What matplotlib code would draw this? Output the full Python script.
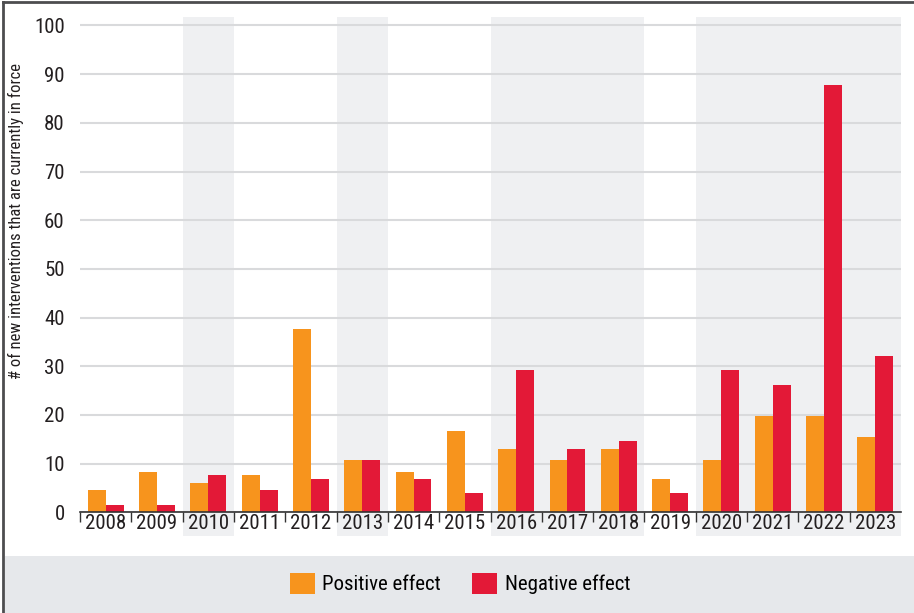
import matplotlib
matplotlib.use('Agg')
import matplotlib.pyplot as plt
import numpy as np
from matplotlib.patches import Rectangle
from matplotlib.lines import Line2D

plt.rcParams['font.family'] = ['Roboto Condensed', 'DejaVu Sans']

years = ['2008', '2009', '2010', '2011', '2012', '2013', '2014', '2015',
         '2016', '2017', '2018', '2019', '2020', '2021', '2022', '2023']
positive = [4.5, 8.3, 6.1, 7.7, 37.6, 10.7, 8.3, 16.8,
            13.0, 10.7, 13.0, 6.9, 10.7, 19.8, 19.8, 15.4]
negative = [1.5, 1.5, 7.7, 4.5, 6.9, 10.7, 6.9, 3.9,
            29.2, 13.0, 14.6, 3.9, 29.2, 26.1, 87.7, 32.2]
# shaded year ranges (first, last)
shaded = [('2010', '2010'), ('2013', '2013'), ('2016', '2018'), ('2020', '2023')]
yticks = [0, 10, 20, 30, 40, 50, 60, 70, 80, 90, 100]

c_pos = '#F7941D'
c_neg = '#E31937'
c_band = '#EFF0F2'
c_grid = '#D9DADC'
c_text = '#231F20'

fig = plt.figure(figsize=(9.14, 6.13), dpi=100)

# legend strip and outer frame
fig.patches.append(Rectangle((5/914, 0), 1, 57/613, transform=fig.transFigure,
                             facecolor='#E6E8EB', edgecolor='none', zorder=0))
fig.lines.append(Line2D([3/914, 3/914], [0, 1 - 2/613], transform=fig.transFigure,
                        color='#4D4D4F', lw=2))
fig.lines.append(Line2D([3/914, 1], [1 - 2/613, 1 - 2/613], transform=fig.transFigure,
                        color='#4D4D4F', lw=2))

ax = fig.add_axes([80/914, 1 - 512.3/613, 821/914, 495.6/613])
x = np.arange(len(years))
w = 0.35

for a, b in shaded:
    i0, i1 = years.index(a), years.index(b)
    ax.add_patch(Rectangle((i0 - 0.5, -0.047), i1 - i0 + 1, 1.047,
                           transform=ax.get_xaxis_transform(), clip_on=False,
                           facecolor=c_band, edgecolor='none', zorder=0))

ax.bar(x - w/2, positive, w, color=c_pos, zorder=3, label='Positive effect')
ax.bar(x + w/2, negative, w, color=c_neg, zorder=3, label='Negative effect')

ax.set_xlim(-0.5, len(years) - 0.5)
ax.set_ylim(0, 101.8)
ax.set_yticks(yticks)
ax.set_yticklabels([str(t) for t in yticks], fontsize=15, color=c_text)
ax.yaxis.grid(True, color=c_grid, lw=1.5, zorder=1)
ax.set_axisbelow(True)
ax.tick_params(axis='y', length=0, pad=11)

ax.set_xticks(x - 0.5, minor=False)
ax.set_xticks(x, minor=True)
ax.set_xticklabels([], minor=False)
ax.set_xticklabels(years, minor=True, fontsize=15, color=c_text)
ax.tick_params(axis='x', which='major', length=7, width=1, color='#333333', direction='out')
ax.tick_params(axis='x', which='minor', length=0, pad=1)

for s in ['top', 'right', 'left']:
    ax.spines[s].set_visible(False)
ax.spines['bottom'].set_color('#333333')
ax.spines['bottom'].set_linewidth(1.2)
ax.spines['bottom'].set_zorder(4)

ax.set_ylabel('# of new interventions that are currently in force', fontsize=12,
              color=c_text)
ax.yaxis.set_label_coords(-0.068, 0.588)
ax.set_facecolor('none')

handles, labels = ax.get_legend_handles_labels()
fig.legend(handles, labels, loc='center', bbox_to_anchor=(460/914, 1 - 583.5/613),
           ncol=2, frameon=False, fontsize=15, handlelength=1.2, handleheight=1.2,
           handletextpad=0.35, columnspacing=1.5)

fig.savefig('out.png', dpi=100)
